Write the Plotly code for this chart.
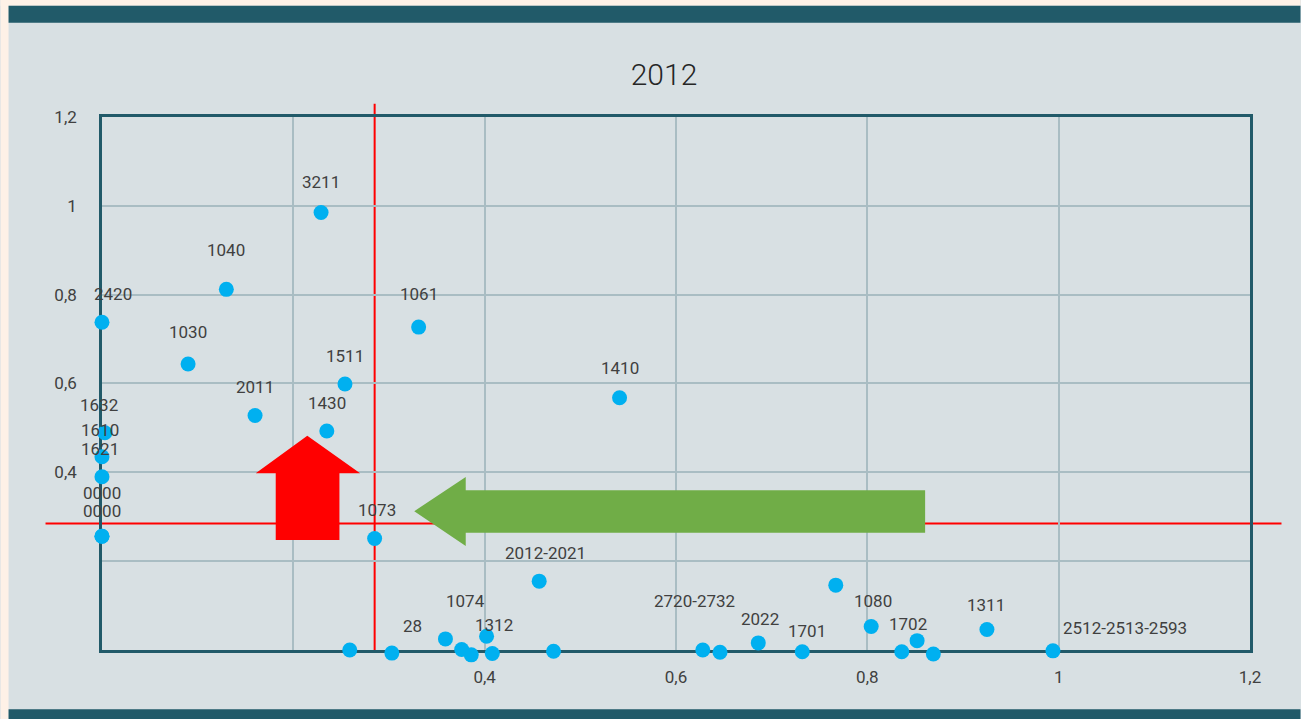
import plotly.graph_objects as go

# ---------------- data ----------------
codes = ["2420", "1040", "3211", "1030", "1061", "1511", "2011", "1430", "1410",
         "1632", "1610", "1621", "0000", "0000", "1073", "2012-2021",
         "", "28", "", "1074", "", "", "1312", "",
         "2720-2732", "", "2022", "1701", "", "1080", "1702", "", "", "1311",
         "2512-2513-2593"]
x_vals = [0.000, 0.130, 0.229, 0.090, 0.331, 0.254, 0.160, 0.235, 0.541,
          0.003, 0.000, 0.000, 0.000, 0.000, 0.285, 0.457,
          0.259, 0.303, 0.359, 0.376, 0.386, 0.402, 0.408, 0.472,
          0.628, 0.646, 0.686, 0.732, 0.767, 0.804, 0.836, 0.852, 0.869, 0.925,
          0.994]
y_vals = [0.738, 0.812, 0.985, 0.644, 0.727, 0.599, 0.528, 0.493, 0.568,
          0.489, 0.435, 0.390, 0.256, 0.256, 0.251, 0.155,
          0.000, -0.007, 0.025, 0.001, -0.011, 0.031, -0.008, -0.003,
          0.000, -0.005, 0.016, -0.004, 0.146, 0.053, -0.004, 0.021, -0.009, 0.046,
          -0.002]

x_threshold = 0.285
y_threshold = 0.285

tick_vals = [0, 0.2, 0.4, 0.6, 0.8, 1.0, 1.2]
tick_text = ["", "", "0,4", "0,6", "0,8", "1", "1,2"]
axis_range = [0, 1.2]

title_text = "2012"

# ---------------- style ----------------
W, H = 1301, 719
# frame of the visible axes (pixels)
FL, FR, FT, FB = 101.5, 1250.5, 117.25, 649.75
PAD = 20  # extra room around the frame so markers on the edge stay visible
ML, MR, MT, MB = FL - PAD, W - FR - PAD, FT - PAD, H - FB - PAD
PW, PH = W - ML - MR, H - MT - MB

BG = "#D8E0E3"
PEACH = "#FEF1E7"
TEAL = "#215A69"
GRID = "#A9BDC3"
TXT = "#404040"
FONT = "Roboto, Arial"

# label nudges (pixels): index -> (dx, dy); default dy = 28
label_nudge = {0: (11, 28), 1: (0, 39), 2: (0, 31), 3: (0, 32), 4: (0, 33), 8: (0, 30),
               9: (-6, 28), 10: (-2, 27), 11: (-2, 28), 12: (0, 25), 13: (0, 43),
               14: (2, 29), 15: (6, 28), 17: (21, 27), 19: (4, 49), 22: (2, 29),
               24: (-8, 49), 26: (2, 24), 27: (5, 21), 29: (2, 25), 30: (6, 28),
               33: (-1, 25), 34: (8, 23)}


def pxx(px):
    return (px - ML) / PW


def pxy(py):
    return (H - MB - py) / PH


# data axes share the frame's scale but cover the padded area
sx = (FR - FL) / (axis_range[1] - axis_range[0])
sy = (FB - FT) / (axis_range[1] - axis_range[0])
x2_range = [axis_range[0] - PAD / sx, axis_range[1] + PAD / sx]
y2_range = [axis_range[0] - PAD / sy, axis_range[1] + PAD / sy]

fig = go.Figure()
fig.add_trace(go.Scatter(
    x=x_vals, y=y_vals, mode="markers", xaxis="x2", yaxis="y2",
    marker=dict(size=15, color="#00B0F0", line=dict(width=0)),
    hoverinfo="skip", showlegend=False,
))

annotations = []
for i, (c, xv, yv) in enumerate(zip(codes, x_vals, y_vals)):
    if not c:
        continue
    dx, dy = label_nudge.get(i, (0, 28))
    anchor = "left" if i == 34 else "center"
    annotations.append(dict(
        x=xv, y=yv, xref="x2", yref="y2", text=c, showarrow=False,
        xanchor=anchor, yanchor="middle", xshift=dx, yshift=dy,
        font=dict(family=FONT, size=17, color=TXT),
    ))

shapes = [
    # frame decorations
    dict(type="rect", xref="paper", yref="paper", x0=pxx(0), x1=pxx(8), y0=pxy(H), y1=pxy(0),
         fillcolor=PEACH, line=dict(width=0), layer="above"),
    dict(type="rect", xref="paper", yref="paper", x0=pxx(0), x1=pxx(W), y0=pxy(6), y1=pxy(0),
         fillcolor=PEACH, line=dict(width=0), layer="above"),
    dict(type="rect", xref="paper", yref="paper", x0=pxx(8), x1=pxx(W), y0=pxy(23), y1=pxy(6),
         fillcolor=TEAL, line=dict(width=0), layer="above"),
    dict(type="rect", xref="paper", yref="paper", x0=pxx(8), x1=pxx(W), y0=pxy(H), y1=pxy(709),
         fillcolor=TEAL, line=dict(width=0), layer="above"),
    # threshold lines
    dict(type="line", xref="x", yref="paper", x0=x_threshold, x1=x_threshold, y0=pxy(651), y1=pxy(104),
         line=dict(color="#FF0000", width=2), layer="below"),
    dict(type="line", xref="paper", yref="y", x0=pxx(45), x1=pxx(1282), y0=y_threshold, y1=y_threshold,
         line=dict(color="#FF0000", width=2), layer="below"),
    # red up arrow
    dict(type="path", xref="x", yref="y",
         path="M 0.1816 0.2474 L 0.2482 0.2474 L 0.2482 0.3977 L 0.2698 0.3977 "
              "L 0.2146 0.4822 L 0.1607 0.3977 L 0.1816 0.3977 Z",
         fillcolor="#FF0000", line=dict(width=0), layer="above"),
    # green left arrow
    dict(type="path", xref="x", yref="y",
         path="M 0.3264 0.3125 L 0.3802 0.3896 L 0.3802 0.3596 L 0.8604 0.3596 "
              "L 0.8604 0.2640 L 0.3802 0.2640 L 0.3802 0.2339 Z",
         fillcolor="#70AD47", line=dict(width=0), layer="above"),
]

axis_common = dict(
    range=axis_range, tickmode="array", tickvals=tick_vals, ticktext=tick_text,
    showgrid=True, gridcolor=GRID, gridwidth=2, zeroline=False,
    showline=True, linecolor=TEAL, linewidth=2.5, mirror=True,
    ticks="", layer="below traces",
    tickfont=dict(family=FONT, size=17, color=TXT),
)

fig.update_layout(
    width=W, height=H, autosize=False,
    margin=dict(l=ML, r=MR, t=MT, b=MB),
    paper_bgcolor=BG, plot_bgcolor="rgba(0,0,0,0)",
    title=dict(text=title_text, x=664 / W, xanchor="center", xref="container",
               y=1 - 74 / H, yanchor="middle", yref="container",
               font=dict(family=FONT, size=30, color="#262626", weight=300)),
    xaxis=dict(**axis_common, domain=[pxx(FL), pxx(FR)], anchor="y", ticklabelstandoff=10),
    yaxis=dict(**axis_common, domain=[pxy(FB), pxy(FT)], anchor="x", ticklabelstandoff=19),
    xaxis2=dict(range=x2_range, domain=[0, 1], anchor="y2", visible=False),
    yaxis2=dict(range=y2_range, domain=[0, 1], anchor="x2", visible=False),
    shapes=shapes, annotations=annotations, showlegend=False,
)

fig.write_html(
    "out.html",
    config={"displayModeBar": False},
    post_script="document.body.style.margin='0';document.body.style.background='%s';" % PEACH,
)
